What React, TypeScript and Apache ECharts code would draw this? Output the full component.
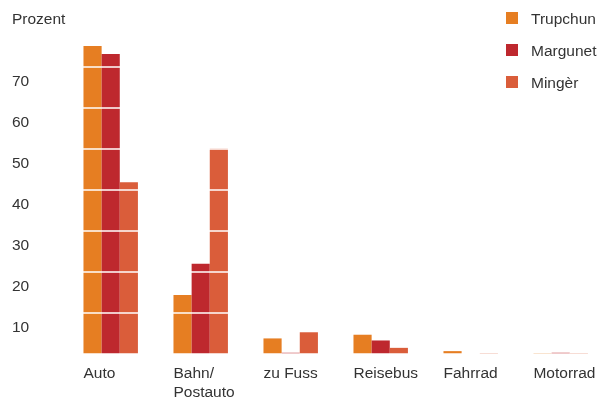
import React, { useEffect, useRef } from "react";
import * as echarts from "echarts";

const categories = ["Auto", "Bahn/\nPostauto", "zu Fuss", "Reisebus", "Fahrrad", "Motorrad"];
const seriesNames = ["Trupchun", "Margunet", "Mingèr"];
const trupchun = [75.1, 14.4, 3.8, 4.7, 0.7, 0.2];
const margunet = [73.2, 22.0, 0.3, 3.3, 0, 0.3];
const minger = [41.9, 50.1, 5.3, 1.5, 0.2, 0.2];
const colors = ["#E67E22", "#BE282E", "#DA5D3A"];
const yTicks = [10, 20, 30, 40, 50, 60, 70];

const FONT = "'Liberation Sans', Arial, Helvetica, sans-serif";
const TEXT = "#333333";

export default function App() {
  const ref = useRef<HTMLDivElement>(null);
  useEffect(() => {
    if (!ref.current) return;
    const chart = echarts.init(ref.current, null, { renderer: "svg" });
    const values = [trupchun, margunet, minger];
    chart.setOption({
      animation: false,
      textStyle: { fontFamily: FONT },
      title: {
        text: "Prozent",
        left: 12,
        top: 10,
        padding: 0,
        textStyle: { fontFamily: FONT, fontSize: 15.5, fontWeight: "normal", color: TEXT, lineHeight: 16 },
      },
      legend: {
        orient: "vertical",
        left: 506,
        top: 10,
        padding: 0,
        z: 20,
        itemWidth: 12,
        itemHeight: 12,
        itemGap: 16,
        icon: "rect",
        data: seriesNames,
        textStyle: { fontFamily: FONT, fontSize: 15.5, color: TEXT, lineHeight: 16, padding: [0, 0, 0, 8] },
      },
      grid: { left: 65.7, right: 3.3, top: 26, bottom: 46, containLabel: false },
      xAxis: {
        type: "category",
        data: categories,
        axisLine: { show: false },
        axisTick: { show: false },
        axisLabel: {
          interval: 0,
          margin: 9,
          align: "center",
          formatter: (v: string) => v.split("\n").map((s) => `{a|${s}}`).join("\n"),
          rich: {
            a: { width: 54.5, align: "left", fontFamily: FONT, fontSize: 15.5, color: TEXT, lineHeight: 19 },
          },
        },
      },
      yAxis: {
        type: "value",
        min: 0,
        max: 80,
        interval: 10,
        z: 5,
        axisLine: { show: false },
        axisTick: { show: false },
        splitLine: { show: true, lineStyle: { color: "#ffffff", width: 1.5 } },
        axisLabel: {
          align: "left",
          margin: 53.7,
          verticalAlign: "top",
          padding: [5.5, 0, 0, 0],
          fontFamily: FONT,
          fontSize: 15.5,
          lineHeight: 16,
          color: TEXT,
          formatter: (v: number) => (yTicks.includes(v) ? String(v) : ""),
        },
      },
      series: seriesNames.map((name, i) => ({
        name,
        type: "bar",
        data: values[i],
        barGap: "0%",
        barCategoryGap: "39.5%",
        itemStyle: { color: colors[i] },
        z: 2,
      })),
    });
    return () => chart.dispose();
  }, []);
  return <div ref={ref} style={{ position: "fixed", left: 0, top: 0, width: 609, height: 400 }} />;
}
